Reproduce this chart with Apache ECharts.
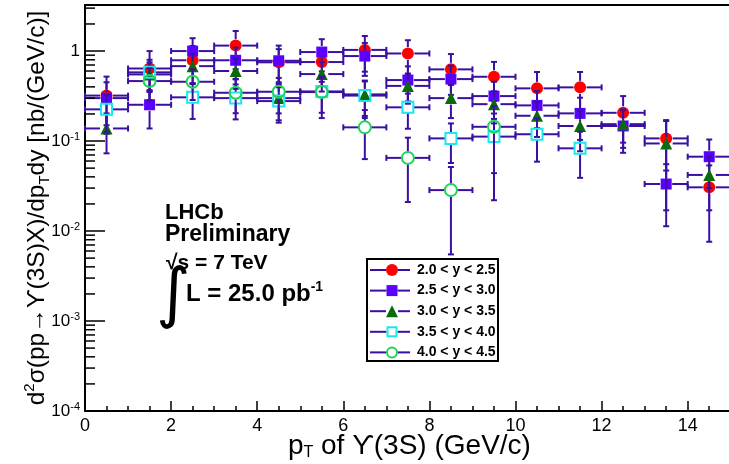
<!DOCTYPE html>
<html><head><meta charset="utf-8">
<script src="https://cdn.jsdelivr.net/npm/echarts@6/dist/echarts.min.js"></script>
<style>html,body{margin:0;padding:0;background:#fff}#c{width:729px;height:464px}</style>
</head><body><div id="c"></div>
<script>
// ---- data ----
const ptBins = [0.5, 1.5, 2.5, 3.5, 4.5, 5.5, 6.5, 7.5, 8.5, 9.5, 10.5, 11.5, 12.5, 13.5, 14.5];
const binHalfWidth = 0.5;
const seriesNames = ['2.0 < y < 2.5', '2.5 < y < 3.0', '3.0 < y < 3.5', '3.5 < y < 4.0', '4.0 < y < 4.5'];
const y20_25 = [0.32, 0.64, 0.79, 1.15, 0.75, 0.755, 1.03, 0.94, 0.626, 0.518, 0.385, 0.395, 0.206, 0.107, 0.0306];
const e20_25 = [0.20, 0.36, 0.35, 0.52, 0.30, 0.30, 0.44, 0.38, 0.30, 0.24, 0.20, 0.19, 0.11, 0.06, 0.023];
const y25_30 = [0.30, 0.253, 1.0, 0.79, 0.78, 0.975, 0.88, 0.476, 0.488, 0.316, 0.249, 0.203, 0.147, 0.0333, 0.067];
const e25_30 = [0.15, 0.115, 0.39, 0.30, 0.37, 0.38, 0.35, 0.20, 0.20, 0.14, 0.11, 0.10, 0.073, 0.022, 0.037];
const y30_35 = [0.138, 0.55, 0.68, 0.60, 0.30, 0.555, 0.33, 0.41, 0.30, 0.257, 0.191, 0.147, 0.154, 0.094, 0.042];
const e30_35 = [0.065, 0.20, 0.25, 0.22, 0.13, 0.20, 0.14, 0.15, 0.12, 0.10, 0.08, 0.07, 0.07, 0.077, 0.025];
const y35_40 = [0.225, 0.58, 0.306, 0.30, 0.278, 0.356, 0.32, 0.237, 0.107, 0.112, 0.119, 0.083, null, null, null];
const e35_40 = [0.10, 0.22, 0.13, 0.126, 0.118, 0.15, 0.14, 0.10, 0.05, 0.09, 0.06, 0.044, null, null, null];
const y40_45 = [null, 0.464, 0.456, 0.344, 0.353, 0.35, 0.142, 0.065, 0.0285, 0.144, null, null, null, null, null];
const e40_45 = [null, 0.18, 0.17, 0.14, 0.15, 0.17, 0.079, 0.044, 0.023, 0.10, null, null, null, null, null];
const yDecades = [-4, -3, -2, -1, 0];
const xTickStep = 2;

// ---- styles ----
const barColor = '#3a10a0';
const FONT = '"Liberation Sans", Arial, sans-serif';
const markerDefs = [
  {symbol: 'circle', size: 12, fill: '#ff0000', stroke: null},
  {symbol: 'rect', size: 11, fill: '#5a00ff', stroke: null},
  {symbol: 'triangle', size: 12, fill: '#0a6b0a', stroke: null},
  {symbol: 'rect', size: 11, fill: 'rgba(0,0,0,0)', stroke: '#19e8f0'},
  {symbol: 'circle', size: 12, fill: 'rgba(0,0,0,0)', stroke: '#1fd25a'}
];
const values = [y20_25, y25_30, y30_35, y35_40, y40_45];
const errors = [e20_25, e25_30, e30_35, e35_40, e40_45];
const yMin = 1e-4, yMax = 3.25;

// minor log ticks
const yMinor = [];
yDecades.forEach(d => { for (let k = 2; k <= 9; k++) { const v = k * Math.pow(10, d); if (v < yMax) yMinor.push(v); } });

function errSeries(i) {
  const data = [];
  ptBins.forEach((x, j) => { if (values[i][j] != null) data.push([x, values[i][j], errors[i][j]]); });
  const gap = markerDefs[i].size / 2 + 0.5, cap = 3;
  return {
    type: 'custom', name: seriesNames[i] + ' err', silent: true, z: 2 + 2 * i,
    data: data, encode: {x: 0, y: 1},
    renderItem: function (params, api) {
      const x = api.value(0), y = api.value(1), e = api.value(2);
      const c = api.coord([x, y]);
      const l = api.coord([x - binHalfWidth, y]);
      const r = api.coord([x + binHalfWidth, y]);
      const t = api.coord([x, y + e]);
      const b = api.coord([x, Math.max(y - e, yMin)]);
      const st = {stroke: barColor, lineWidth: 2};
      const L = (x1, y1, x2, y2) => ({type: 'line', shape: {x1, y1, x2, y2}, style: st});
      const ch = [
        L(l[0], c[1], c[0] - gap, c[1]), L(c[0] + gap, c[1], r[0], c[1]),
        L(c[0], t[1], c[0], c[1] - gap), L(c[0], c[1] + gap, c[0], b[1]),
        L(l[0], c[1] - cap, l[0], c[1] + cap), L(r[0], c[1] - cap, r[0], c[1] + cap),
        L(c[0] - cap, t[1], c[0] + cap, t[1])
      ];
      if (y - e > yMin) ch.push(L(c[0] - cap, b[1], c[0] + cap, b[1]));
      return {type: 'group', children: ch};
    }
  };
}
function markSeries(i) {
  const data = [];
  ptBins.forEach((x, j) => { if (values[i][j] != null) data.push([x, values[i][j]]); });
  const m = markerDefs[i];
  return {
    type: 'scatter', name: seriesNames[i], z: 3 + 2 * i, data: data,
    symbol: m.symbol, symbolSize: m.size,
    itemStyle: {color: m.fill, borderColor: m.stroke || m.fill, borderWidth: m.stroke ? 2 : 0, opacity: 1},
    emphasis: {disabled: true}
  };
}

const series = [];
for (let i = 0; i < 5; i++) { series.push(errSeries(i)); series.push(markSeries(i)); }
series.push({
  type: 'custom', name: 'minor ticks', silent: true, z: 20,
  data: yMinor.map(v => [0, v]), encode: {x: 0, y: 1},
  renderItem: function (params, api) {
    const p = api.coord([api.value(0), api.value(1)]);
    return {type: 'line', shape: {x1: p[0], y1: p[1], x2: p[0] + 10, y2: p[1]}, style: {stroke: '#000', lineWidth: 1.5}};
  }
});

// ---- legend (graphic) ----
const lgX = 367, lgY = 259, lgW = 131, lgH = 102, lgRow0 = 270, lgStep = 20.6, lgMark = 392;
const graphics = [{type: 'rect', shape: {x: lgX, y: lgY, width: lgW, height: lgH}, style: {fill: '#fff', stroke: '#000', lineWidth: 2}, z: 100}];
seriesNames.forEach((n, i) => {
  const y = lgRow0 + i * lgStep, m = markerDefs[i], g = m.size / 2;
  graphics.push({type: 'line', shape: {x1: 370, y1: y, x2: lgMark - g, y2: y}, style: {stroke: barColor, lineWidth: 2}, z: 101});
  graphics.push({type: 'line', shape: {x1: lgMark + g, y1: y, x2: 410, y2: y}, style: {stroke: barColor, lineWidth: 2}, z: 101});
  const sty = m.stroke ? {fill: 'none', stroke: m.stroke, lineWidth: 2} : {fill: m.fill};
  let shp;
  if (m.symbol === 'circle') shp = {type: 'circle', shape: {cx: lgMark, cy: y, r: g - (m.stroke ? 1 : 0)}, style: sty};
  else if (m.symbol === 'rect') shp = {type: 'rect', shape: {x: lgMark - g + (m.stroke ? 1 : 0), y: y - g + (m.stroke ? 1 : 0), width: m.size - (m.stroke ? 2 : 0), height: m.size - (m.stroke ? 2 : 0)}, style: sty};
  else shp = {type: 'polygon', shape: {points: [[lgMark, y - g], [lgMark + g, y + g], [lgMark - g, y + g]]}, style: sty};
  shp.z = 102; graphics.push(shp);
  graphics.push({type: 'text', x: 417, y: y, style: {text: n, fontFamily: FONT, fontWeight: 'bold', fontSize: 14, fill: '#000', textVerticalAlign: 'middle'}, z: 102});
});
// ---- annotations ----
const annFont = {fontFamily: FONT, fontWeight: 'bold', fontSize: 22, fill: '#000', textVerticalAlign: 'middle'};
graphics.push({type: 'text', x: 165, y: 213, style: Object.assign({text: 'LHCb'}, annFont)});
graphics.push({type: 'text', x: 165, y: 235, style: Object.assign({text: 'Preliminary'}, annFont, {fontSize: 23})});
graphics.push({type: 'text', x: 166, y: 263, style: Object.assign({text: '√s = 7 TeV'}, annFont, {fontSize: 21})});
graphics.push({type: 'text', x: 156, y: 298, style: {text: '∫', fontFamily: '"DejaVu Sans"', fontSize: 66, fill: '#000', textVerticalAlign: 'middle'}});
graphics.push({type: 'text', x: 186, y: 294, style: {text: '{m|L = 25.0 pb}{s|-1}', fontFamily: FONT, fontWeight: 'bold', fill: '#000', textVerticalAlign: 'middle',
  rich: {m: {fontSize: 24, fontWeight: 'bold', fontFamily: FONT, lineHeight: 28}, s: {fontSize: 14, fontWeight: 'bold', fontFamily: FONT, verticalAlign: 'top', lineHeight: 15}}}});

const chart = echarts.init(document.getElementById('c'), null, {renderer: 'canvas'});
chart.setOption({
  animation: false,
  backgroundColor: '#fff',
  grid: {left: 85, top: 5, width: 688.8, height: 406, outerBoundsMode: 'none', containLabel: false},
  xAxis: [{
    type: 'value', min: 0, max: 16, interval: xTickStep,
    axisLine: {lineStyle: {color: '#000', width: 2}},
    axisTick: {inside: true, length: 10, lineStyle: {color: '#000', width: 1.5}},
    minorTick: {show: true, splitNumber: 4, length: 5, lineStyle: {color: '#000', width: 1.5}},
    splitLine: {show: false},
    axisLabel: {fontFamily: FONT, fontSize: 18, color: '#000', margin: 6},
    name: '{t|p}{sub|T}{t| of ϒ(3S) (GeV/c)}', nameLocation: 'middle', nameGap: 20, nameMoveOverlap: false,
    nameTextStyle: {padding: [0, 40, 0, 0], rich: {t: {fontFamily: FONT, fontSize: 28, lineHeight: 30, color: '#000'}, sub: {fontFamily: FONT, fontSize: 16, lineHeight: 15, verticalAlign: 'bottom', color: '#000'}}}
  }, {
    type: 'value', min: 0, max: 16, position: 'top',
    axisLine: {lineStyle: {color: '#000', width: 2}}, axisTick: {show: false}, axisLabel: {show: false}, splitLine: {show: false}
  }],
  yAxis: {
    type: 'log', min: yMin, max: yMax, logBase: 10,
    axisLine: {lineStyle: {color: '#000', width: 2}},
    axisTick: {inside: true, length: 20, lineStyle: {color: '#000', width: 1.5}},
    splitLine: {show: false},
    axisLabel: {
      margin: 5,
      formatter: function (v) {
        const e = Math.log10(v), r = Math.round(e);
        if (Math.abs(e - r) > 1e-6 || yDecades.indexOf(r) < 0) return '';
        return r === 0 ? '{b|1}' : '{b|10}{s|' + r + '}';
      },
      rich: {b: {fontFamily: FONT, fontSize: 17, color: '#000', lineHeight: 20}, s: {fontFamily: FONT, fontSize: 11, color: '#000', verticalAlign: 'top', lineHeight: 11}}
    },
    name: '{t|d}{sup|2}{t|σ(pp→ϒ(3S)X)/dp}{sub|T}{t|dy [nb/(GeV/c)]}', nameLocation: 'middle', nameGap: 33, nameRotate: 90, nameMoveOverlap: false,
    nameTextStyle: {rich: {t: {fontFamily: FONT, fontSize: 24.5, lineHeight: 30, color: '#000'}, sup: {fontFamily: FONT, fontSize: 15, lineHeight: 15, verticalAlign: 'top', color: '#000'}, sub: {fontFamily: FONT, fontSize: 15, lineHeight: 15, verticalAlign: 'bottom', color: '#000'}}}
  },
  legend: {show: false},
  graphic: graphics,
  series: series
});
</script></body></html>
